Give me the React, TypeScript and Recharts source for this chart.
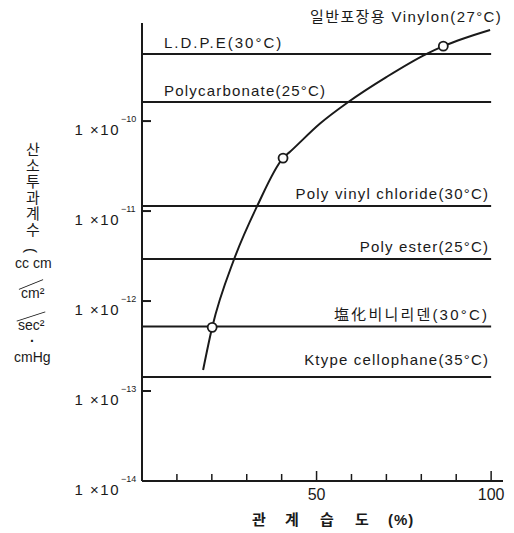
import React from 'react'
import { Line, LineChart, ReferenceLine, XAxis, YAxis } from 'recharts'

// Vinylon curve (relative humidity %, O2 permeability)
const humidity = [17.5, 20.1, 26.4, 33.0, 40.4, 42.4, 51.0, 59.1, 70.1, 81.4, 86.3, 99.7]
const vinylon = [
    1.71e-13, 5.1e-13, 2.93e-12, 1.14e-11, 3.88e-11, 4.56e-11, 9.4e-11, 1.63e-10, 3.1e-10, 5.55e-10, 6.8e-10, 1.03e-9,
]
const measured = [false, true, false, false, true, false, false, false, false, false, true, false]

// reference films (flat lines)
const films = [
    'L.D.P.E(30°C)',
    'Polycarbonate(25°C)',
    'Poly vinyl chloride(30°C)',
    'Poly ester(25°C)',
    '塩化비니리덴(30°C)',
    'Ktype cellophane(35°C)',
]
const filmValues = [5.55e-10, 1.63e-10, 1.14e-11, 2.93e-12, 5.2e-13, 1.43e-13]

const decadeTicks = [1e-14, 1e-13, 1e-12, 1e-11, 1e-10]
const humidityTicks = [0, 10, 20, 30, 40, 50, 60, 70, 80, 90, 100]

const FONT = '"Liberation Sans", Arial, "Noto Sans CJK KR", sans-serif'
const INK = '#1a1a1a'

const curveData = humidity.map((h, i) => ({ x: h, y: vinylon[i], mark: measured[i] }))

const YTick = (props: any) => {
    const { x, y, payload } = props
    const exp = Math.round(Math.log10(payload.value))
    return (
        <g>
            <line x1={x} x2={x + 9} y1={y} y2={y} stroke={INK} strokeWidth={2} />
            <text x={x - 22} y={y + 14} textAnchor="end" fontSize={15} fill={INK} fontFamily={FONT} letterSpacing={1.5}>
                1 ×10
            </text>
            <text x={x - 21} y={y + 1} fontSize={9} fill={INK} fontFamily={FONT}>
                {'−' + Math.abs(exp)}
            </text>
        </g>
    )
}

const XTick = (props: any) => {
    const { x, y, payload } = props
    const v = payload.value
    if (v === 0) return null
    const major = v % 50 === 0
    return (
        <g>
            <line x1={x} x2={x} y1={y} y2={y - (major ? 10 : 7)} stroke={INK} strokeWidth={1.5} />
            {major && (
                <text x={x} y={y + 19} textAnchor="middle" fontSize={16} fill={INK} fontFamily={FONT}>
                    {v}
                </text>
            )}
        </g>
    )
}

const CurveDot = (props: any) => {
    const { cx, cy, payload, index } = props
    if (!payload.mark) return <g key={index} />
    return <circle key={index} cx={cx} cy={cy} r={4.5} fill="#fff" stroke={INK} strokeWidth={1.8} />
}

// left-aligned for the two top films, right-aligned for the rest
const filmLabel = (text: string, i: number) => (props: any) => {
    const { viewBox } = props
    const left = i < 2
    const dy = i === 5 ? -12 : i < 2 ? -6 : -7
    return (
        <text
            x={left ? viewBox.x + 22 : viewBox.x + viewBox.width - 2}
            y={viewBox.y + dy}
            textAnchor={left ? 'start' : 'end'}
            fontSize={15}
            letterSpacing={i === 4 ? 2.2 : i === 0 ? 2 : 1.2}
            fill={INK}
            fontFamily={FONT}
        >
            {text}
        </text>
    )
}

const abs = (left: number, top: number, extra: React.CSSProperties = {}): React.CSSProperties => ({
    position: 'absolute',
    left,
    top,
    lineHeight: 1,
    color: INK,
    fontFamily: FONT,
    whiteSpace: 'pre',
    ...extra,
})

const xTitle = ['관', '계', '습', '도', '(%)']
const xTitleLeft = [252, 285, 320, 355, 388]

const App = () => {
    return (
        <div style={{ position: 'absolute', left: 0, top: 0, width: 514, height: 533, background: '#fff' }}>
            <LineChart width={514} height={533} data={curveData} margin={{ top: 23, right: 11, bottom: 22, left: 0 }}>
                <XAxis
                    type="number"
                    dataKey="x"
                    domain={[0, 103.4]}
                    ticks={humidityTicks}
                    height={30}
                    tickSize={0}
                    tickMargin={0}
                    tickLine={false}
                    axisLine={{ stroke: INK, strokeWidth: 2 }}
                    tick={<XTick />}
                    allowDataOverflow
                />
                <YAxis
                    type="number"
                    dataKey="y"
                    scale="log"
                    domain={[1e-14, 1.23e-9]}
                    ticks={decadeTicks}
                    width={142}
                    tickSize={0}
                    tickMargin={0}
                    tickLine={false}
                    axisLine={{ stroke: INK, strokeWidth: 2 }}
                    tick={<YTick />}
                    allowDataOverflow
                />
                {films.map((name, i) => (
                    <ReferenceLine
                        key={name}
                        segment={[
                            { x: 0, y: filmValues[i] },
                            { x: 100, y: filmValues[i] },
                        ]}
                        stroke={INK}
                        strokeWidth={2}
                        label={filmLabel(name, i)}
                    />
                ))}
                <Line
                    type="monotone"
                    dataKey="y"
                    stroke={INK}
                    strokeWidth={2}
                    dot={<CurveDot />}
                    activeDot={false}
                    isAnimationActive={false}
                />
            </LineChart>

            <div style={abs(310, 9, { fontSize: 15, letterSpacing: 1.4 })}>일반포장용 Vinylon(27°C)</div>

            {xTitle.map((t, i) => (
                <div key={t} style={abs(xTitleLeft[i], 512, { fontSize: 15, fontWeight: 'bold', letterSpacing: 1 })}>
                    {t}
                </div>
            ))}

            {/* y-axis title, stacked */}
            <div style={abs(24, 142, { fontSize: 15, width: 18, textAlign: 'center', lineHeight: '16px', whiteSpace: 'normal' })}>
                산소투과계수
            </div>
            <div style={abs(29, 243, { fontSize: 15, transform: 'rotate(90deg)' })}>(</div>
            <div style={abs(15, 256, { fontSize: 14 })}>cc cm</div>
            <div style={abs(18, 284, { width: 26, height: 0, borderTop: `1.5px solid ${INK}`, transform: 'rotate(-22deg)' })} />
            <div style={abs(21, 286, { fontSize: 14 })}>cm²</div>
            <div style={abs(16, 316, { width: 30, height: 0, borderTop: `1.5px solid ${INK}`, transform: 'rotate(-18deg)' })} />
            <div style={abs(18, 318, { fontSize: 14 })}>sec²</div>
            <div style={abs(30, 334, { fontSize: 14, fontWeight: 'bold' })}>·</div>
            <div style={abs(14, 350, { fontSize: 14 })}>cmHg</div>
        </div>
    )
}

export default App
